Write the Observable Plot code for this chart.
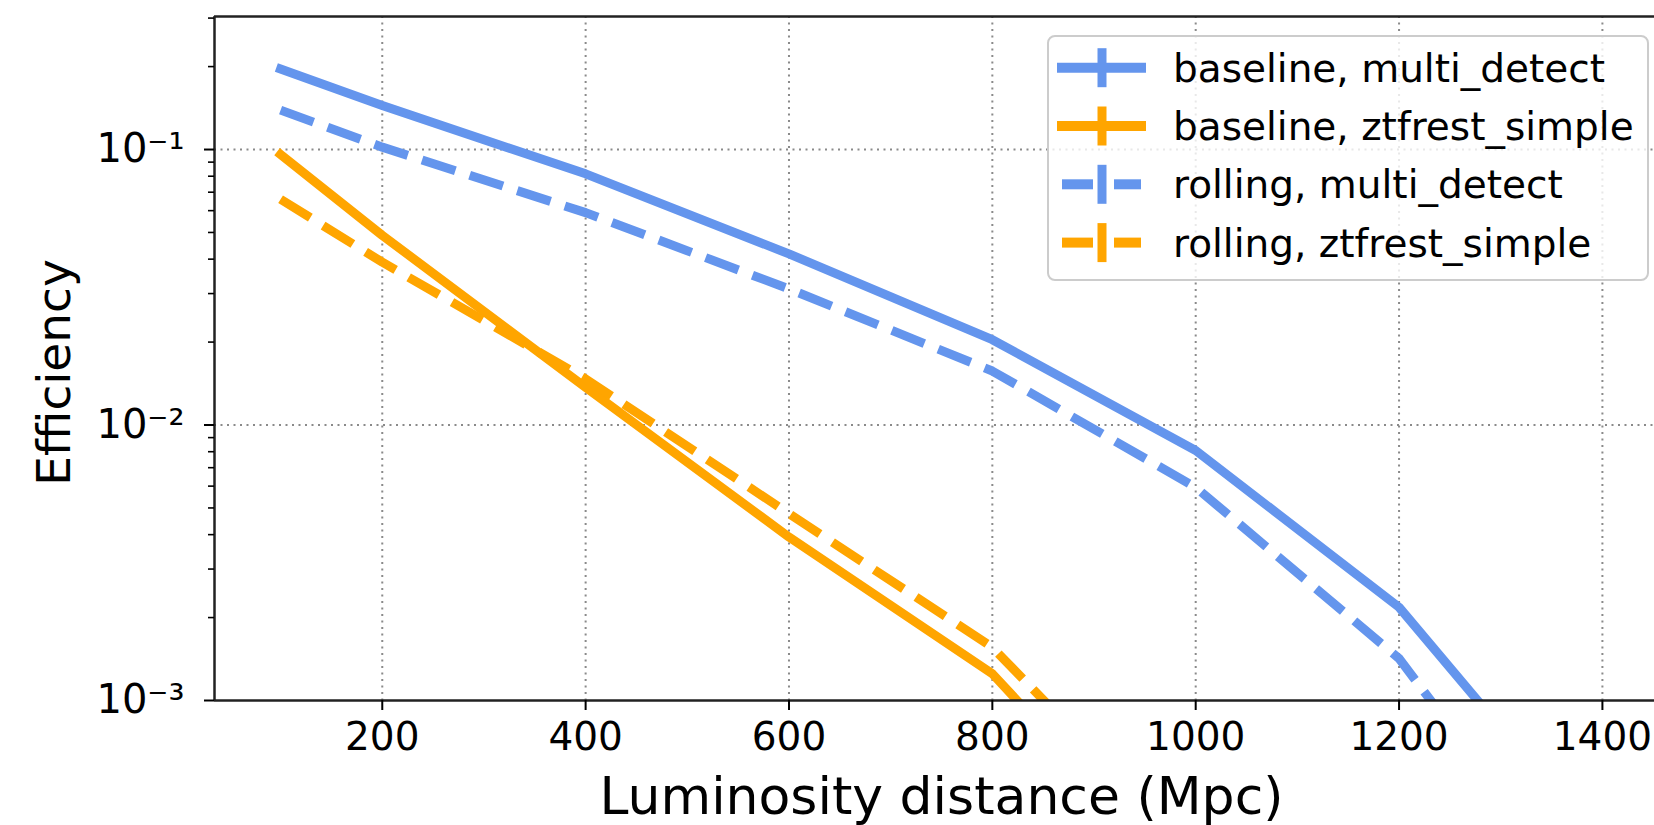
<!DOCTYPE html>
<html><head><meta charset="utf-8">
<script src="https://cdn.jsdelivr.net/npm/d3@7"></script>
<script src="https://cdn.jsdelivr.net/npm/@observablehq/plot@0.6"></script>
<style>
body{margin:0;background:#fff;}
#chart{position:relative;width:1654px;height:825px;overflow:hidden;background:#fff;}
</style></head><body><div id="chart"></div>
<script>
// ---- data ----
const distances = [100, 200, 400, 600, 800, 1000, 1200, 1400];
const baselineMulti = [0.196, 0.1445, 0.0816, 0.0418, 0.0204, 0.00808, 0.00218, 0.00029];
const baselineZtf   = [0.096, 0.0488, 0.0137, 0.00392, 0.00125, 0.00020, null, null];
const rollingMulti  = [0.139, 0.102, 0.059, 0.0312, 0.0157, 0.00594, 0.00142, 0.00015];
const rollingZtf    = [0.066, 0.039, 0.0147, 0.00477, 0.00156, 0.00027, null, null];

const seriesNames = ["baseline, multi_detect", "baseline, ztfrest_simple", "rolling, multi_detect", "rolling, ztfrest_simple"];
const seriesValues = [baselineMulti, baselineZtf, rollingMulti, rollingZtf];
const seriesSchedule = ["baseline", "baseline", "rolling", "rolling"];
const seriesDetector = ["multi_detect", "ztfrest_simple", "multi_detect", "ztfrest_simple"];
const detectorColors = ["cornflowerblue", "orange"];
const detectors = ["multi_detect", "ztfrest_simple"];

const xTicks = [200, 400, 600, 800, 1000, 1200, 1400];
const yMajor = [1e-3, 1e-2, 1e-1];
const yTickLabels = ["10\u207B\u00B3", "10\u207B\u00B2", "10\u207B\u00B9"];
const yMinor = [2e-3,3e-3,4e-3,5e-3,6e-3,7e-3,8e-3,9e-3,2e-2,3e-2,4e-2,5e-2,6e-2,7e-2,8e-2,9e-2,2e-1,3e-1];
const xLabel = "Luminosity distance (Mpc)";
const yLabel = "Efficiency";
const xDomain = [35, 1465];
const yDomain = [1e-3, 0.304];

// ---- table ----
const rows = [];
seriesNames.forEach((name, s) => {
  distances.forEach((d, i) => {
    rows.push({series: name, schedule: seriesSchedule[s], detector: seriesDetector[s], d, e: seriesValues[s][i]});
  });
});

const grid = {stroke: "#8a8a8a", strokeOpacity: 1, strokeWidth: 2, strokeDasharray: "2,4.5"};

const plot = Plot.plot({
  width: 1654, height: 825,
  marginLeft: 214, marginRight: 0, marginTop: 16, marginBottom: 125,
  style: {fontFamily: "'DejaVu Sans', sans-serif", fontSize: "39px", background: "white", color: "black"},
  x: {domain: xDomain, range: [214, 1668]},
  y: {type: "log", domain: yDomain},
  color: {domain: detectors, range: detectorColors},
  marks: [
    Plot.gridX(xTicks, grid),
    Plot.gridY([1e-2, 1e-1], grid),
    Plot.line(rows.filter(r => r.schedule === "baseline"), {
      x: "d", y: "e", z: "series", stroke: "detector", strokeWidth: 9,
      strokeLinejoin: "round", strokeLinecap: "square", clip: true
    }),
    Plot.line(rows.filter(r => r.schedule === "rolling"), {
      x: "d", y: "e", z: "series", stroke: "detector", strokeWidth: 9,
      strokeDasharray: "35,15", strokeLinejoin: "round", strokeLinecap: "butt", clip: true
    }),
    Plot.ruleX([xDomain[0]], {stroke: "#222", strokeWidth: 2.5}),
    Plot.ruleY([yDomain[0]], {stroke: "#222", strokeWidth: 2.5}),
    Plot.ruleY([yDomain[1]], {stroke: "#222", strokeWidth: 2.5}),
    Plot.axisX(xTicks, {tickSize: 10, tickPadding: 12, strokeWidth: 2, fontSize: 39, label: null,
      tickFormat: d => String(d)}),
    Plot.axisY(yMajor, {tickSize: 10, tickPadding: 20, strokeWidth: 2, fontSize: 40, label: null,
      tickFormat: d => yTickLabels[yMajor.indexOf(d)]}),
    Plot.axisY(yMinor, {tickSize: 6, strokeWidth: 1.6, tickFormat: () => "", label: null}),
    Plot.text([xLabel], {frameAnchor: "bottom", text: d => d, dx: 7, dy: 97, fontSize: 52,
      textAnchor: "middle", lineAnchor: "middle"}),
    Plot.text([yLabel], {frameAnchor: "left", text: d => d, dx: -160, dy: 14, rotate: -90, fontSize: 47,
      textAnchor: "middle", lineAnchor: "middle"})
  ]
});

document.getElementById("chart").appendChild(plot);

// ---- legend (inside plot, upper right) ----
const svg = d3.select(plot);
const lg = svg.append("g").attr("class", "legend").attr("text-anchor", "start");
lg.append("rect")
  .attr("x", 1048).attr("y", 36).attr("width", 600).attr("height", 244).attr("rx", 7)
  .attr("fill", "white").attr("fill-opacity", 0.8).attr("stroke", "#cccccc").attr("stroke-width", 2);
const rowH = 58.3, row0 = 67.7;
seriesNames.forEach((name, i) => {
  const cy = row0 + i * rowH;
  const col = detectorColors[detectors.indexOf(seriesDetector[i])];
  if (seriesSchedule[i] === "baseline") {
    lg.append("line").attr("x1", 1057).attr("x2", 1146).attr("y1", cy).attr("y2", cy)
      .attr("stroke", col).attr("stroke-width", 10);
  } else {
    lg.append("line").attr("x1", 1062).attr("x2", 1093).attr("y1", cy).attr("y2", cy)
      .attr("stroke", col).attr("stroke-width", 10);
    lg.append("line").attr("x1", 1114).attr("x2", 1141).attr("y1", cy).attr("y2", cy)
      .attr("stroke", col).attr("stroke-width", 10);
  }
  lg.append("line").attr("x1", 1102).attr("x2", 1102).attr("y1", cy - 19.5).attr("y2", cy + 19.5)
    .attr("stroke", col).attr("stroke-width", 9);
  lg.append("text").attr("x", 1173).attr("y", cy).attr("dy", "0.36em")
    .attr("text-anchor", "start")
    .attr("font-size", 39).attr("font-family", "'DejaVu Sans', sans-serif").attr("fill", "black")
    .text(name);
});
</script>
</body></html>
